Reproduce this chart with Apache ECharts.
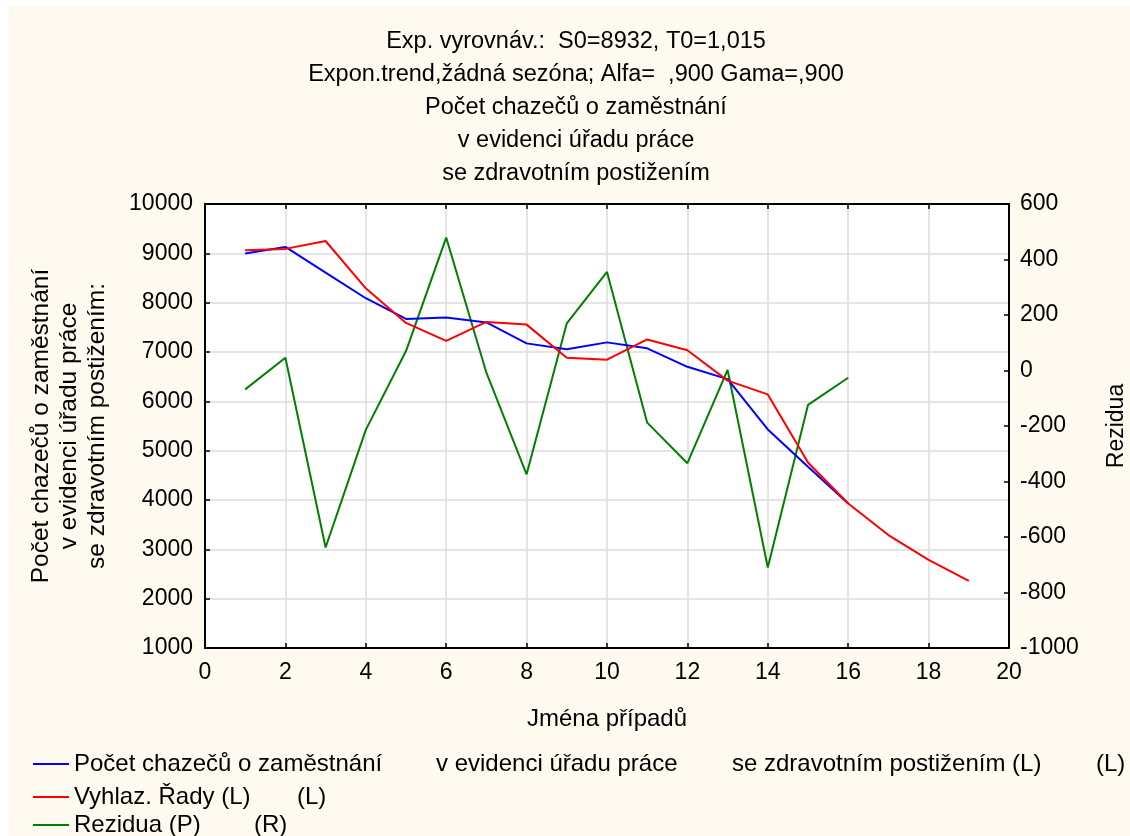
<!DOCTYPE html>
<html>
<head>
<meta charset="utf-8">
<script src="https://cdn.jsdelivr.net/npm/echarts@6/dist/echarts.min.js"></script>
<style>
html,body{margin:0;padding:0;background:#fff;}
#chart{width:1130px;height:836px;}
</style>
</head>
<body>
<div id="chart"></div>
<script>
// ---- data ----
const caseNumbers = [1,2,3,4,5,6,7,8,9,10,11,12,13,14,15,16,17,18,19];
const observed = [8995,9130,8610,8090,7670,7700,7600,7175,7055,7195,7075,6700,6450,5430,4675,3930];
const smoothed = [9060,9090,9250,8290,7590,7225,7610,7555,6885,6845,7255,7035,6420,6140,4760,3930,3290,2785,2360];
const residuals = [-68,46,-638,-214,70,479,-8,-374,170,355,-188,-334,2,-710,-124,-26];
const xTicks = {min:0, max:20, interval:2};
const leftTicks = {min:1000, max:10000, interval:1000};
const rightTicks = {min:-1000, max:600, interval:200};

const titleLines = [
  'Exp. vyrovnáv.:  S0=8932, T0=1,015',
  'Expon.trend,žádná sezóna; Alfa=  ,900 Gama=,900',
  'Počet chazečů o zaměstnání',
  'v evidenci úřadu práce',
  'se zdravotním postižením'
];
const seriesNames = ['Pozorované', 'Vyhlazené', 'Rezidua'];

function pairs(xs, ys){ return ys.map((v,i)=>[xs[i], v]); }

const FONT = "'Liberation Sans', Arial, sans-serif";
const chart = echarts.init(document.getElementById('chart'), null, {renderer:'canvas'});

const legendText = {
  'Pozorované': '{a|Počet chazečů o zaměstnání}{b|v evidenci úřadu práce}{c|se zdravotním postižením (L)}{d|(L)}',
  'Vyhlazené': '{e|Vyhlaz. Řady (L)}{d|(L)}',
  'Rezidua': '{f|Rezidua (P)}{d|(R)}'
};
const LF = 24;
const legendRich = {
  a:{width:362, fontSize:LF, fontFamily:FONT, color:'#000'},
  b:{width:296, fontSize:LF, fontFamily:FONT, color:'#000'},
  c:{width:364, fontSize:LF, fontFamily:FONT, color:'#000'},
  d:{fontSize:LF, fontFamily:FONT, color:'#000'},
  e:{width:223, fontSize:LF, fontFamily:FONT, color:'#000'},
  f:{width:180, fontSize:LF, fontFamily:FONT, color:'#000'}
};
function makeLegend(name, top){
  return {
    orient:'horizontal', left:28, top:top,
    icon:'rect', itemWidth:36, itemHeight:2,
    data:[name],
    formatter: n => legendText[n],
    textStyle:{fontSize:LF, color:'#000', lineHeight:24, fontFamily:FONT, rich:legendRich}
  };
}

const TF = 23;
const axisCommon = {
  axisLine:{show:true, onZero:false, lineStyle:{color:'#000', width:2}},
  axisTick:{show:true, inside:true, length:5, lineStyle:{color:'#000', width:1.5}}
};
const plain = v => String(v);

const option = {
  animation:false,
  backgroundColor:'#FFFAF0',
  textStyle:{fontFamily:FONT},
  graphic:[
    {type:'rect', shape:{x:0,y:0,width:1130,height:6}, style:{fill:'#fff'}, silent:true},
    {type:'rect', shape:{x:0,y:0,width:9,height:836}, style:{fill:'#fff'}, silent:true}
  ],
  title:{
    text: titleLines.join('\n'),
    left:571, top:20, textAlign:'center',
    textStyle:{fontSize:23.5, fontWeight:'normal', color:'#000', lineHeight:33, fontFamily:FONT}
  },
  grid:{left:205, right:121, top:204, bottom:188, show:true, backgroundColor:'#fff', borderWidth:0,
        containLabel:false, outerBoundsMode:'none'},
  legend:[
    makeLegend(seriesNames[0], 747),
    makeLegend(seriesNames[1], 780),
    makeLegend(seriesNames[2], 808)
  ],
  xAxis:[
    Object.assign({}, axisCommon, {
      type:'value', min:xTicks.min, max:xTicks.max, interval:xTicks.interval,
      position:'bottom',
      name:'Jména případů', nameLocation:'middle', nameGap:59,
      nameTextStyle:{color:'#000', fontSize:24, fontFamily:FONT},
      axisLabel:{color:'#000', fontSize:TF, fontFamily:FONT, margin:13, formatter:plain},
      splitLine:{show:true, lineStyle:{color:'#DDDDDD', width:1.5}}
    }),
    Object.assign({}, axisCommon, {
      type:'value', min:xTicks.min, max:xTicks.max, interval:xTicks.interval,
      position:'top', axisLabel:{show:false}, splitLine:{show:false}
    })
  ],
  yAxis:[
    Object.assign({}, axisCommon, {
      type:'value', min:leftTicks.min, max:leftTicks.max, interval:leftTicks.interval,
      position:'left',
      name:'Počet chazečů o zaměstnání\nv evidenci úřadu práce\nse zdravotním postižením:',
      nameLocation:'middle', nameGap:94, nameRotate:90,
      nameTextStyle:{color:'#000', fontSize:24.5, lineHeight:28, fontFamily:FONT, align:'center'},
      axisLabel:{color:'#000', fontSize:TF, fontFamily:FONT, margin:12, formatter:plain},
      splitLine:{show:true, lineStyle:{color:'#DDDDDD', width:1.5}}
    }),
    Object.assign({}, axisCommon, {
      type:'value', min:rightTicks.min, max:rightTicks.max, interval:rightTicks.interval,
      position:'right',
      name:'Rezidua', nameLocation:'middle', nameGap:96, nameRotate:90,
      nameTextStyle:{color:'#000', fontSize:23, fontFamily:FONT},
      axisLabel:{color:'#000', fontSize:TF, fontFamily:FONT, margin:11, formatter:plain},
      splitLine:{show:false}
    })
  ],
  series:[
    {name:seriesNames[0], type:'line', xAxisIndex:0, yAxisIndex:0, data:pairs(caseNumbers, observed),
     symbol:'none', lineStyle:{color:'#0000FF', width:2}, itemStyle:{color:'#0000FF'}, z:3},
    {name:seriesNames[1], type:'line', xAxisIndex:0, yAxisIndex:0, data:pairs(caseNumbers, smoothed),
     symbol:'none', lineStyle:{color:'#FF0000', width:2}, itemStyle:{color:'#FF0000'}, z:4},
    {name:seriesNames[2], type:'line', xAxisIndex:0, yAxisIndex:1, data:pairs(caseNumbers, residuals),
     symbol:'none', lineStyle:{color:'#008000', width:2}, itemStyle:{color:'#008000'}, z:2}
  ]
};
chart.setOption(option);
</script>
</body>
</html>
